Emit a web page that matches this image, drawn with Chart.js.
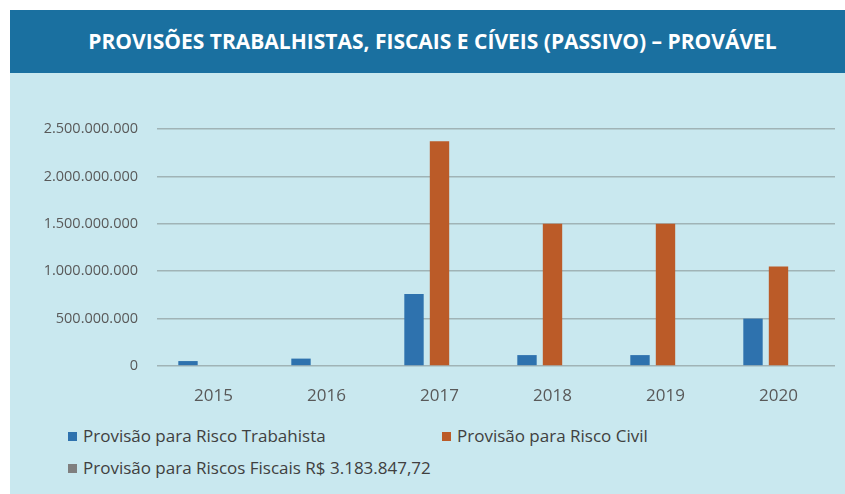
<!DOCTYPE html>
<html>
<head>
<meta charset="utf-8">
<script src="https://cdn.jsdelivr.net/npm/chart.js@4"></script>
<style>
  html, body { margin: 0; padding: 0; background: #fff; }
  #panel { position: absolute; left: 10px; top: 10px; width: 835px; height: 484px; background: #c9e8ef; overflow: hidden; }
  #header { height: 63px; background: #1a70a0; color: #fff; font-family: "Open Sans", sans-serif; font-weight: 700;
            font-size: 21px; line-height: 63px; text-align: center; padding-left: 10px; }
  #wrap { position: absolute; left: 0; top: 63px; width: 835px; height: 340px; }
  #legend { position: absolute; left: 0; top: 0; width: 835px; font-family: "Open Sans", sans-serif; font-size: 17px; color: #404040; }
  .item { position: absolute; white-space: nowrap; line-height: 20px; }
  .box { display: inline-block; width: 9px; height: 9px; margin-right: 6px; vertical-align: 1px; }
</style>
</head>
<body>
<div id="panel">
  <div id="header">PROVISÕES TRABALHISTAS, FISCAIS E CÍVEIS (PASSIVO) – PROVÁVEL</div>
  <div id="wrap"><canvas id="chart" width="835" height="340"></canvas></div>
  <div id="legend"></div>
</div>
<script>
// ==================== Data ====================
const years = ['2015', '2016', '2017', '2018', '2019', '2020'];
const trabalhista = [52000000, 78000000, 760000000, 115000000, 115000000, 500000000];
const civil = [null, null, 2370000000, 1500000000, 1500000000, 1050000000];
const fiscais = [null, null, null, null, null, null];
const seriesLabels = [
    'Provisão para Risco Trabahista',
    'Provisão para Risco Civil',
    'Provisão para Riscos Fiscais R$ 3.183.847,72'
];
const seriesColors = ['#2e72ae', '#bb5b28', '#7f7f7f'];
const yTicks = [0, 500000000, 1000000000, 1500000000, 2000000000, 2500000000];

// ==================== Legend (positioned like the original) ====================
const legendPos = [[58, 416], [432, 416], [58, 448]];
const legendEl = document.getElementById('legend');
seriesLabels.forEach((label, i) => {
    const div = document.createElement('div');
    div.className = 'item';
    div.style.left = legendPos[i][0] + 'px';
    div.style.top = legendPos[i][1] + 'px';
    div.innerHTML = `<span class="box" style="background:${seriesColors[i]}"></span>${label}`;
    legendEl.appendChild(div);
});

// ==================== Chart ====================
function fmt(v) {
    return v.toLocaleString('pt-BR');
}

const ctx = document.getElementById('chart').getContext('2d');
new Chart(ctx, {
    type: 'bar',
    data: {
        labels: years,
        datasets: [trabalhista, civil, fiscais].map((d, i) => ({
            label: seriesLabels[i],
            data: d,
            backgroundColor: seriesColors[i],
            borderWidth: 0,
            categoryPercentage: 0.677,
            barPercentage: 0.76
        }))
    },
    options: {
        responsive: false,
        animation: false,
        devicePixelRatio: 1,
        layout: { padding: { top: 56, right: 10, left: 0, bottom: 0 } },
        plugins: {
            legend: { display: false },
            tooltip: { enabled: false }
        },
        scales: {
            y: {
                min: 0,
                max: 2500000000,
                afterFit: s => { s.width = 147; },
                afterBuildTicks: s => { s.ticks = yTicks.map(v => ({ value: v })); },
                border: { display: false },
                grid: { color: '#a0b3b6', lineWidth: 1.6, drawTicks: false },
                ticks: {
                    autoSkip: false,
                    padding: 19,
                    color: '#595959',
                    font: { family: 'Open Sans', size: 14.5 },
                    callback: v => fmt(v)
                }
            },
            x: {
                afterFit: s => { s.height = 47; },
                border: { display: false },
                grid: { display: false },
                ticks: {
                    autoSkip: false,
                    maxRotation: 0,
                    padding: 12,
                    color: '#595959',
                    font: { family: 'Open Sans', size: 17 }
                }
            }
        }
    }
});
</script>
</body>
</html>
